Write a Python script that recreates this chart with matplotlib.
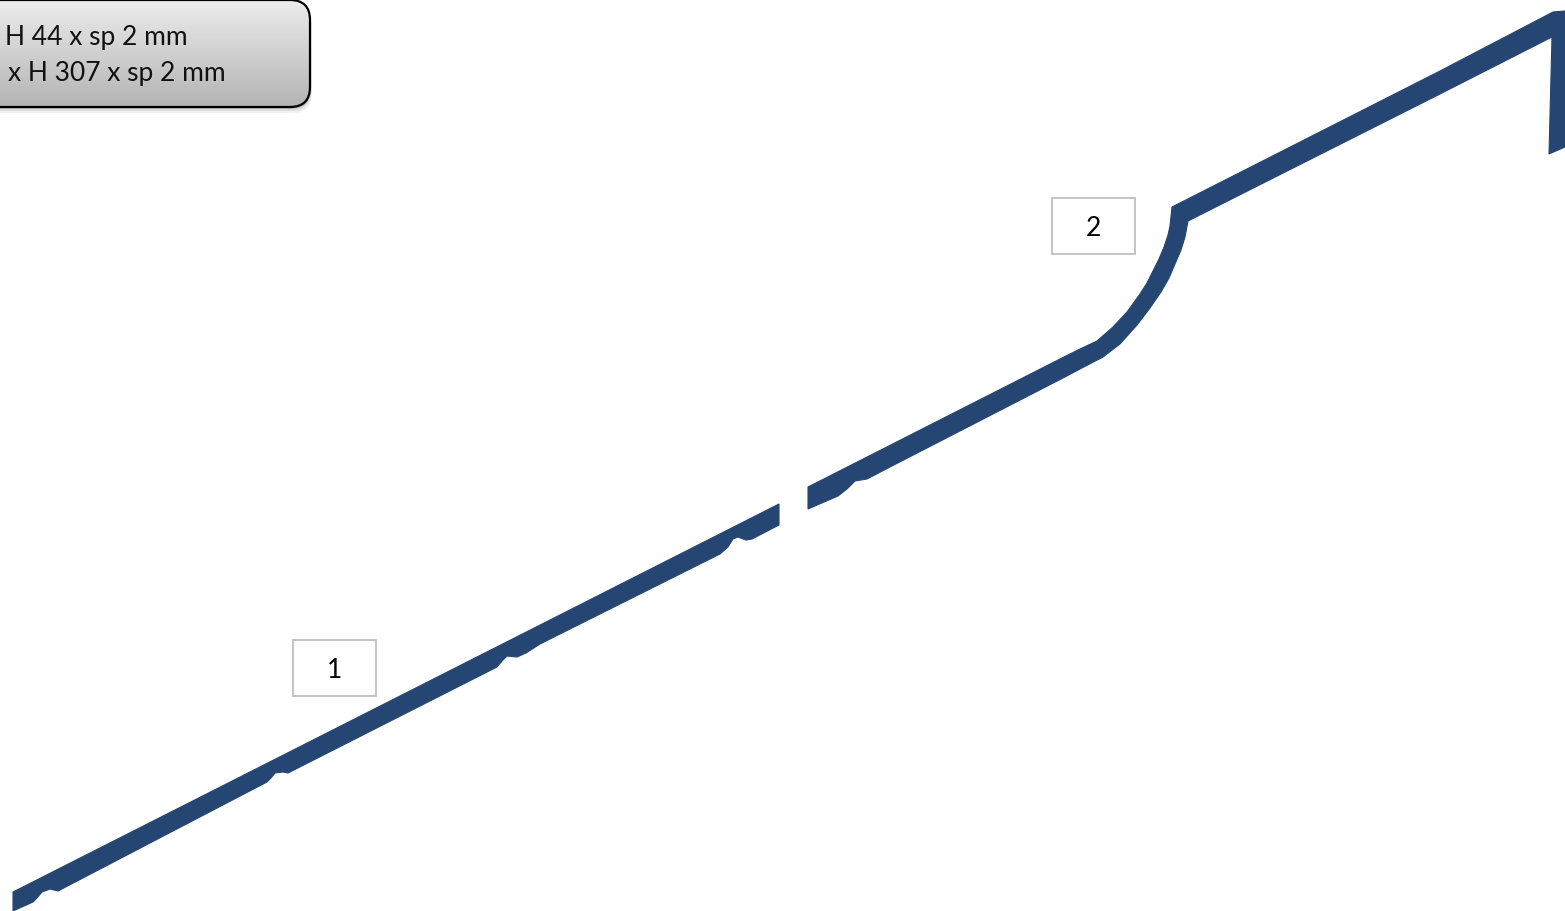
import matplotlib
matplotlib.use('Agg')
import matplotlib.pyplot as plt
import numpy as np
from matplotlib.patches import FancyBboxPatch, Rectangle

W = 1565
H = 912
BLU = '#254672'

plt.rcParams['font.family'] = ['Lato', 'DejaVu Sans']

# profilo inferiore (px)
low_x = [13, 779, 779, 752, 746, 738, 733, 728, 720, 540, 526, 517, 507, 502, 497, 288, 283, 275, 271, 267, 58, 50, 42, 37, 33, 13]
low_y = [893, 505, 526, 540, 541, 538, 540, 548, 555, 645, 654, 658, 657, 662, 668, 774, 773, 774, 779, 783, 892, 890, 893, 899, 903, 912]

# profilo superiore con raccordo e risvolto
up_x = [808, 1060, 1080, 1097, 1113, 1127, 1140, 1147, 1153, 1159, 1164, 1168, 1170, 1172, 1440, 1553, 1565, 1565, 1549, 1552, 1440,
        1188, 1185, 1181, 1175, 1169, 1161, 1150, 1137, 1120, 1103, 1080, 1063, 890, 867, 861, 855, 847, 838, 808]
up_y = [488, 360, 350, 342, 328, 313, 295, 284, 272, 260, 248, 236, 227, 208, 72, 13, 12, 148, 155, 38, 95,
        222, 238, 251, 265, 279, 293, 309, 326, 345, 358, 370, 379, 468, 480, 481, 482, 490, 497, 510]

legend_lines = ['H 44 x sp 2 mm', 'x H 307 x sp 2 mm']
legend_x = [5, 8]
legend_y = [37, 73]

box_labels = ['1', '2']
box_x = [292.5, 1051.5]
box_y = [640.5, 198.5]
box_w = 83.5
box_h = 56

fig = plt.figure(figsize=(W / 100, H / 100), dpi=100)
ax = fig.add_axes([0, 0, 1, 1])

ax.fill(low_x, low_y, color=BLU, lw=0.8)
ax.fill(up_x, up_y, color=BLU, lw=0.8)

# ombra sotto il riquadro
for off, col in zip([6, 4, 2], ['#f0f0f0', '#dcdcdc', '#b8b8b8']):
    ax.add_patch(FancyBboxPatch((-40, 1 + off), 350 + off / 3, 107,
                                boxstyle='round,pad=0,rounding_size=20',
                                fc=col, ec='none', zorder=2))

legend_box = FancyBboxPatch((-40, 1), 350, 107, boxstyle='round,pad=0,rounding_size=20',
                            fc='none', ec='black', lw=1.6, zorder=4)
ax.add_patch(legend_box)
grad = np.linspace(0, 1, 107).reshape(-1, 1)
img = ax.imshow(grad, extent=(-40, 310, 108, 1),
                cmap=matplotlib.colors.LinearSegmentedColormap.from_list('g', ['#ececec', '#b4b4b4']),
                aspect='auto', zorder=3)
img.set_clip_path(legend_box)

for txt, tx, ty in zip(legend_lines, legend_x, legend_y):
    ax.text(tx, ty, txt, fontsize=19, color='#111111', va='center', ha='left', zorder=5)

for lab, bx, by in zip(box_labels, box_x, box_y):
    ax.add_patch(Rectangle((bx, by), box_w, box_h, fc='white', ec='#bfbfbf', lw=1.3, zorder=3))
    ax.text(bx + box_w / 2, by + box_h / 2 + 2, lab, fontsize=19, color='black', ha='center', va='center', zorder=4)

ax.set_xlim(0, W)
ax.set_ylim(H, 0)
ax.axis('off')

fig.savefig('out.png', dpi=100)
